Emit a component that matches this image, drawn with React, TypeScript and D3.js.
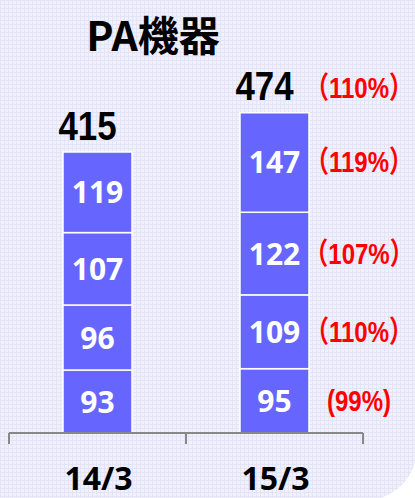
import React from "react";
import * as d3 from "d3";

const title = "PA機器";
const categories = ["14/3", "15/3"];
// stacked segment values, bottom to top
const seg1403 = [93, 96, 107, 119];
const seg1503 = [95, 109, 122, 147];
const totals = [415, 474];
// growth labels for 15/3 segments (bottom to top) and total
const growthSegs = ["(99%)", "（110%）", "（107%）", "（119%）"];
const growthTotal = "（110%）";

const W = 415;
const H = 498;

export default function App() {
  const series = [seg1403, seg1503];
  const x = d3.scaleBand().domain(categories).range([9, 363]).paddingInner(0).paddingOuter(0);
  const y = d3.scaleLinear().domain([0, 415]).range([433, 152]);
  const barW = 69;
  const bw = x.bandwidth();
  const axisY = y(0);
  const sans = "'Liberation Sans', Arial, 'Noto Sans CJK JP', sans-serif";

  const Narrow = ({ cx, cy, sx, children, ...rest }: any) => (
    <g transform={`translate(${cx},${cy}) scale(${sx},1)`}>
      <text x={0} y={0} textAnchor="middle" {...rest}>
        {children}
      </text>
    </g>
  );

  const pctX = (cx: number) => cx + barW / 2 + 50;

  return (
    <svg width={W} height={H} style={{ position: "absolute", left: 0, top: 0 }}>
      <defs>
        <pattern id="grid" width="4" height="4" patternUnits="userSpaceOnUse">
          <rect width="4" height="4" fill="#f1f1fd" />
          <rect x="0" y="0" width="4" height="1" fill="#e4e4f7" />
          <rect x="0" y="0" width="1" height="4" fill="#e4e4f7" />
        </pattern>
      </defs>
      <rect width={W} height={H} fill="url(#grid)" />
      <path d="M415,462 Q408,488 381,498 L415,498 Z" fill="#ffffff" />

      <text x={153} y={51} textAnchor="middle" fontFamily="'Noto Sans CJK JP', sans-serif" fontWeight={700} fontSize={41} fill="#000">
        {title}
      </text>

      {categories.map((c, i) => {
        const cx = (x(c) as number) + bw / 2;
        const stacked = d3.cumsum(series[i]);
        const bars = series[i].map((v, j) => {
          const y0 = y(stacked[j] - v);
          const y1 = y(stacked[j]);
          return (
            <g key={j}>
              <rect x={cx - barW / 2} y={y1} width={barW} height={y0 - y1} fill="#6666ff" stroke="#ffffff" strokeWidth={1.5} />
              <text x={cx} y={(y0 + y1) / 2 + 11} textAnchor="middle" fontFamily="'Noto Sans', sans-serif" fontWeight={700} fontSize={30} fill="#ffffff">
                {v}
              </text>
              {i === 1 && (
                <Narrow cx={pctX(cx)} cy={(y0 + y1) / 2 + 10} sx={0.8} fontFamily={sans} fontWeight={700} fontSize={30} fill="#ff0000">
                  {growthSegs[j]}
                </Narrow>
              )}
            </g>
          );
        });
        return (
          <g key={c}>
            {bars}
            <Narrow cx={cx - 10} cy={y(totals[i]) - 12} sx={0.85} fontFamily={sans} fontWeight={700} fontSize={41} fill="#000">
              {totals[i]}
            </Narrow>
            {i === 1 && (
              <Narrow cx={pctX(cx)} cy={y(totals[i]) - 14} sx={0.8} fontFamily={sans} fontWeight={700} fontSize={30} fill="#ff0000">
                {growthTotal}
              </Narrow>
            )}
            <text x={cx + 1} y={490} textAnchor="middle" fontFamily="'Noto Sans', sans-serif" fontWeight={700} fontSize={32} fill="#000">
              {c}
            </text>
          </g>
        );
      })}

      <g stroke="#888888" strokeWidth={2} fill="none">
        <line x1={9} x2={363} y1={axisY} y2={axisY} />
        {[9, ...categories.map((c) => (x(c) as number) + bw)].map((tx, k) => (
          <line key={k} x1={tx} x2={tx} y1={axisY} y2={axisY + 11} />
        ))}
      </g>
    </svg>
  );
}
